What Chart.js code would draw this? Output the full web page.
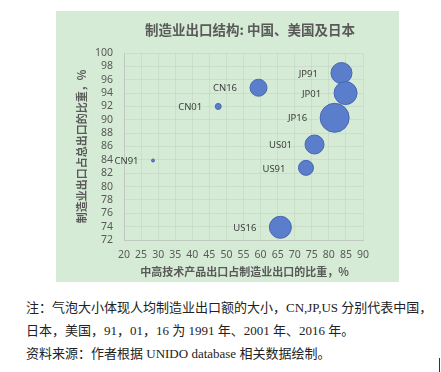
<!DOCTYPE html>
<html>
<head>
<meta charset="utf-8">
<script src="https://cdn.jsdelivr.net/npm/chart.js@4/dist/chart.umd.min.js"></script>
<style>
  body { margin: 0; background: #fff; width: 441px; height: 372px; position: relative; overflow: hidden; }
  #panel { position: absolute; left: 56px; top: 11px; width: 343px; height: 271px; background: #d5ebd5; }
  #note { position: absolute; left: 26px; top: 296px; font-family: "Liberation Serif", "Noto Sans CJK SC", serif; font-size: 13px; line-height: 23px; color: #222; white-space: nowrap; }
  #cursor { position: absolute; left: 439px; top: 358px; width: 1px; height: 14px; background: #333; }
</style>
</head>
<body>
<div id="panel"><canvas id="bubbleChart" width="343" height="271"></canvas></div>
<div id="note">
  注：气泡大小体现人均制造业出口额的大小，CN,JP,US 分别代表中国，<br>
  日本，美国，91，01，16 为 1991 年、2001 年、2016 年。<br>
  资料来源：作者根据 UNIDO database 相关数据绘制。
</div>
<div id="cursor"></div>
<script>
// data
const labels = ['CN91', 'CN01', 'CN16', 'JP91', 'JP01', 'JP16', 'US01', 'US91', 'US16'];
const hiTechShare = [28.5, 47.6, 59.4, 83.7, 84.9, 81.7, 75.8, 73.3, 65.8];
const mfgShare = [83.9, 92.0, 94.8, 97.0, 94.0, 90.3, 86.3, 82.8, 73.9];
const bubbleSize = [1.5, 3, 8.5, 10.5, 11.5, 14.5, 9.5, 7.5, 11];

const titleText = '制造业出口结构: 中国、美国及日本';
const xTitle = '中高技术产品出口占制造业出口的比重，%';
const yTitle = '制造业出口占总出口的比重，%';

const textPlugin = {
    id: 'textPlugin',
    afterDatasetsDraw(chart) {
        const ctx = chart.ctx;
        const area = chart.chartArea;
        ctx.save();
        // title
        ctx.fillStyle = '#595959';
        ctx.textAlign = 'center';
        ctx.textBaseline = 'middle';
        ctx.font = 'bold 13.5px "Noto Sans CJK SC", sans-serif';
        ctx.fillText(titleText, 194, 19);
        // axis titles
        ctx.font = 'bold 11px "Noto Sans CJK SC", sans-serif';
        ctx.fillText(xTitle, (area.left + area.right) / 2 + 1, 261);
        ctx.save();
        ctx.translate(26, (area.top + area.bottom) / 2);
        ctx.rotate(-Math.PI / 2);
        ctx.fillText(yTitle, 0, 0);
        ctx.restore();
        // point labels
        ctx.fillStyle = '#404040';
        ctx.textAlign = 'right';
        ctx.font = '9.5px "Noto Sans", sans-serif';
        chart.getDatasetMeta(0).data.forEach((pt, i) => {
            ctx.fillText(labels[i], pt.x - bubbleSize[i] - 13, pt.y + 1);
        });
        ctx.restore();
    }
};

const ctx = document.getElementById('bubbleChart').getContext('2d');
new Chart(ctx, {
    type: 'bubble',
    data: {
        datasets: [{
            data: hiTechShare.map((x, i) => ({ x: x, y: mfgShare[i], r: bubbleSize[i] })),
            backgroundColor: '#5a7ecb',
            borderColor: '#4766b0',
            borderWidth: 1
        }]
    },
    options: {
        responsive: false,
        animation: false,
        layout: { padding: { top: 42, right: 36, left: 0, bottom: 0 } },
        scales: {
            x: {
                min: 20,
                max: 90,
                ticks: { stepSize: 5, padding: 9, autoSkip: false, maxRotation: 0, minRotation: 0,
                         color: '#595959', font: { family: 'Noto Sans', size: 10.5 } },
                grid: { color: 'rgba(0,0,0,0.05)', drawTicks: false },
                border: { color: '#bfc9bf' },
                afterFit(scale) { scale.height = 42; }
            },
            y: {
                min: 72,
                max: 100,
                ticks: { stepSize: 2, padding: 11, autoSkip: false,
                         color: '#595959', font: { family: 'Noto Sans', size: 10.5 } },
                grid: { color: 'rgba(0,0,0,0.05)', drawTicks: false },
                border: { color: '#bfc9bf' },
                afterFit(scale) { scale.width = 68; }
            }
        },
        plugins: {
            legend: { display: false },
            tooltip: { enabled: false }
        }
    },
    plugins: [textPlugin]
});
</script>
</body>
</html>
